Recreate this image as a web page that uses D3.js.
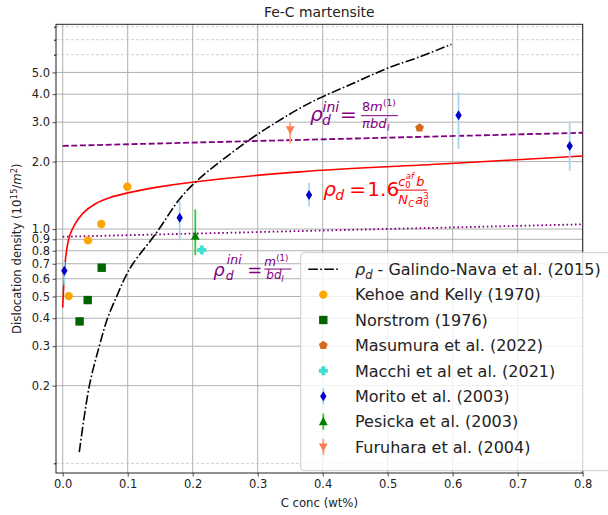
<!DOCTYPE html>
<html>
<head>
<meta charset="utf-8">
<script src="https://cdn.jsdelivr.net/npm/d3@7"></script>
<style>
body { margin: 0; background: #fff; }
text { font-family: "DejaVu Sans", sans-serif; }
</style>
</head>
<body>
<div id="chart"></div>
<script>
// ---- data ----
const galindoX = [0.0255, 0.041, 0.0563, 0.069, 0.083, 0.095, 0.108, 0.1435, 0.179, 0.205, 0.283, 0.329, 0.365, 0.396, 0.447, 0.498, 0.55, 0.598]
const galindoY = [0.101, 0.2, 0.3, 0.4, 0.5, 0.6, 0.7, 0.956, 1.35, 1.627, 2.45, 3.0, 3.46, 3.85, 4.47, 5.2, 5.88, 6.68]

const modelX = [0.0, 0.0025, 0.005, 0.0102, 0.018, 0.031, 0.051, 0.072, 0.1, 0.1435, 0.205, 0.365, 0.596, 0.8]
const modelY = [0.446, 0.623, 0.765, 0.924, 1.042, 1.175, 1.30, 1.38, 1.45, 1.535, 1.627, 1.80, 1.96, 2.12]

const iniX = [0.0, 0.8]
const iniDashedY = [2.35, 2.69]
const iniDottedY = [0.924, 1.05]

const kehoeX = [0.0092, 0.039, 0.0594, 0.0994]
const kehoeY = [0.502, 0.89, 1.053, 1.545]

const norstromX = [0.026, 0.0385, 0.06]
const norstromY = [0.387, 0.482, 0.672]

const masumuraX = [0.549]
const masumuraY = [2.83]

const macchiX = [0.214]
const macchiY = [0.806]

const moritoX = [0.0025, 0.18, 0.379, 0.609, 0.78]
const moritoY = [0.651, 1.123, 1.42, 3.22, 2.35]
const moritoLo = [0.562, 0.893, 1.26, 2.28, 1.82]
const moritoHi = [0.715, 1.33, 1.61, 4.08, 2.98]

const pesickaX = [0.204]
const pesickaY = [0.93]
const pesickaLo = [0.765]
const pesickaHi = [1.224]

const furuharaX = [0.35]
const furuharaY = [2.77]
const furuharaLo = [2.41]
const furuharaHi = [3.0]

const xTicks = [0.0, 0.1, 0.2, 0.3, 0.4, 0.5, 0.6, 0.7, 0.8]
const yTicks = [0.2, 0.3, 0.4, 0.5, 0.6, 0.7, 0.8, 0.9, 1.0, 2.0, 3.0, 4.0, 5.0]
const yMinor = [0.09, 6, 7, 8]

// ---- layout ----
const width = 608
const height = 515
const margin = {top: 24.3, right: 25.3, bottom: 42, left: 56}
const iw = width - margin.left - margin.right
const ih = height - margin.top - margin.bottom

const svg = d3.select("div#chart").append("svg").attr("width", width).attr("height", height)

const x = d3.scaleLinear().domain([-0.0103, 0.8]).range([0, iw])
const y = d3.scaleLog().domain([0.0815, 8.2]).range([ih, 0])

const plot = svg.append("g").attr("transform", `translate(${margin.left}, ${margin.top})`)

// grid
const grid = plot.append("g").attr("class", "grid")
grid.selectAll("line.vx").data(xTicks).enter().append("line")
    .attr("x1", d => x(d)).attr("x2", d => x(d)).attr("y1", 0).attr("y2", ih)
    .attr("stroke", "#b0b0b0").attr("stroke-width", 1)
grid.selectAll("line.hy").data(yTicks).enter().append("line")
    .attr("x1", 0).attr("x2", iw).attr("y1", d => y(d)).attr("y2", d => y(d))
    .attr("stroke", "#b0b0b0").attr("stroke-width", 1)
grid.selectAll("line.hm").data(yMinor).enter().append("line")
    .attr("x1", 0).attr("x2", iw).attr("y1", d => y(d)).attr("y2", d => y(d))
    .attr("stroke", "#c4c4c4").attr("stroke-width", 0.8).attr("stroke-dasharray", "3,2")

// axes
const xAxis = d3.axisBottom(x).tickValues(xTicks).tickFormat(d3.format(".1f")).tickSize(3.5).tickSizeOuter(0)
const yAxis = d3.axisLeft(y).tickValues(yTicks).tickFormat(d3.format(".1f")).tickSize(3.5).tickSizeOuter(0)
const xg = plot.append("g").attr("transform", `translate(0, ${ih})`).call(xAxis)
const yg = plot.append("g").call(yAxis)
const yMinorAxis = d3.axisLeft(y).tickValues(yMinor).tickFormat("").tickSize(2).tickSizeOuter(0)
plot.append("g").call(yMinorAxis).select(".domain").remove()
for (const g of [xg, yg]) {
    g.selectAll("text").attr("font-family", "DejaVu Sans").attr("font-size", 11.5).attr("fill", "#222")
    g.selectAll("line").attr("stroke", "#222").attr("stroke-width", 0.8)
    g.select(".domain").remove()
}
xg.selectAll("text").attr("y", 7)
yg.selectAll("text").attr("x", -6)

// spines
plot.append("rect").attr("width", iw).attr("height", ih)
    .attr("fill", "none").attr("stroke", "#222").attr("stroke-width", 1)

const curves = plot.append("g")

// curves
const zip = (a, b) => a.map((v, i) => [v, b[i]])
const straight = d3.line().x(d => x(d[0])).y(d => y(d[1]))
const smooth = d3.line().x(d => x(d[0])).y(d => y(d[1])).curve(d3.curveCatmullRom.alpha(0.5))

curves.append("path").datum(zip(iniX, iniDashedY)).attr("d", straight)
    .attr("fill", "none").attr("stroke", "#800080").attr("stroke-width", 1.8).attr("stroke-dasharray", "6,2.6")
curves.append("path").datum(zip(iniX, iniDottedY)).attr("d", straight)
    .attr("fill", "none").attr("stroke", "#800080").attr("stroke-width", 1.8).attr("stroke-dasharray", "1.6,2.6")
curves.append("path").datum(zip(modelX, modelY)).attr("d", smooth)
    .attr("fill", "none").attr("stroke", "red").attr("stroke-width", 1.6)
curves.append("path").datum(zip(galindoX, galindoY)).attr("d", smooth)
    .attr("fill", "none").attr("stroke", "black").attr("stroke-width", 1.6).attr("stroke-dasharray", "9.6,2.4,1.6,2.4")

// marker shapes
function marker(g, type, cx, cy, color) {
    if (type === "o") {
        g.append("circle").attr("cx", cx).attr("cy", cy).attr("r", 4.2).attr("fill", color)
    } else if (type === "s") {
        g.append("rect").attr("x", cx - 4.2).attr("y", cy - 4.2).attr("width", 8.4).attr("height", 8.4).attr("fill", color)
    } else if (type === "p") {
        const pts = d3.range(5).map(i => {
            const a = -Math.PI / 2 + i * 2 * Math.PI / 5
            return [cx + 4.6 * Math.cos(a), cy + 4.6 * Math.sin(a)]
        })
        g.append("polygon").attr("points", pts.join(" ")).attr("fill", color)
    } else if (type === "P") {
        const a = 4.5, b = 2
        const pts = [[-b, -a], [b, -a], [b, -b], [a, -b], [a, b], [b, b], [b, a], [-b, a], [-b, b], [-a, b], [-a, -b], [-b, -b]]
        g.append("polygon").attr("points", pts.map(p => [cx + p[0], cy + p[1]]).join(" ")).attr("fill", color)
    } else if (type === "d") {
        g.append("polygon").attr("points", [[cx, cy - 5], [cx + 3.2, cy], [cx, cy + 5], [cx - 3.2, cy]].join(" ")).attr("fill", color)
    } else if (type === "^") {
        g.append("polygon").attr("points", [[cx, cy - 4.8], [cx + 4.4, cy + 3.6], [cx - 4.4, cy + 3.6]].join(" ")).attr("fill", color)
    } else if (type === "v") {
        g.append("polygon").attr("points", [[cx, cy + 4.8], [cx + 4.4, cy - 3.6], [cx - 4.4, cy - 3.6]].join(" ")).attr("fill", color)
    }
}

const series = [
    {xs: kehoeX, ys: kehoeY, type: "o", color: "#ffa500"},
    {xs: norstromX, ys: norstromY, type: "s", color: "#006400"},
    {xs: masumuraX, ys: masumuraY, type: "p", color: "#d2691e"},
    {xs: macchiX, ys: macchiY, type: "P", color: "#40e0d0"},
    {xs: moritoX, ys: moritoY, lo: moritoLo, hi: moritoHi, type: "d", color: "#0000cd", ecolor: "#a6d4ee"},
    {xs: pesickaX, ys: pesickaY, lo: pesickaLo, hi: pesickaHi, type: "^", color: "#008000", ecolor: "#32cd32"},
    {xs: furuharaX, ys: furuharaY, lo: furuharaLo, hi: furuharaHi, type: "v", color: "#ff7f50", ecolor: "#ffa07a"},
]

const marks = plot.append("g")
series.forEach(s => {
    if (s.lo) {
        marks.selectAll(null).data(s.xs.map((v, i) => i)).enter().append("line")
            .attr("x1", i => x(s.xs[i])).attr("x2", i => x(s.xs[i]))
            .attr("y1", i => y(s.lo[i])).attr("y2", i => y(s.hi[i]))
            .attr("stroke", s.ecolor).attr("stroke-width", 1.8)
    }
    s.xs.forEach((v, i) => marker(marks, s.type, x(v), y(s.ys[i]), s.color))
})

// ---- math annotations ----
function put(g, str, px, py, size, italic, color) {
    return g.append("text").attr("x", px).attr("y", py).attr("font-size", size)
        .attr("font-style", italic ? "italic" : "normal").attr("fill", color).text(str)
}

// rho_d^ini = 8 m^(1) / (pi b d_l)
{
    const c = "#800080"
    const g = plot.append("g").attr("transform", `translate(${x(0.3805)}, ${y(3.03)})`)
    put(g, "ρ", 0, 0, 20, true, c)
    put(g, "ini", 12.5, -9.5, 14, true, c)
    put(g, "d", 12, 4, 14, true, c)
    put(g, "=", 30, 0, 20, false, c)
    g.append("line").attr("x1", 51).attr("x2", 88).attr("y1", -5.5).attr("y2", -5.5).attr("stroke", c).attr("stroke-width", 1)
    put(g, "8", 52, -10, 13, false, c)
    put(g, "m", 60, -10, 13, true, c)
    put(g, "(1)", 73, -15, 9, false, c)
    put(g, "π", 52, 7, 13, true, c)
    put(g, "bd", 60, 7, 13, true, c)
    put(g, "l", 77, 10, 9, true, c)
}

// rho_d = 1.6 c0^af b / (Nc a0^3)
{
    const c = "red"
    const g = plot.append("g").attr("transform", `translate(${x(0.401)}, ${y(1.41)})`)
    put(g, "ρ", 0, 0, 20, true, c)
    put(g, "d", 12, 4, 14, true, c)
    put(g, "=", 26, 0, 20, false, c)
    put(g, "1.6", 44, 0, 20, false, c)
    g.append("line").attr("x1", 74).attr("x2", 104).attr("y1", -5.5).attr("y2", -5.5).attr("stroke", c).attr("stroke-width", 1)
    put(g, "c", 75, -10, 13, true, c)
    put(g, "0", 82, -8, 8.5, false, c)
    put(g, "af", 82.5, -17, 8.5, true, c)
    put(g, "b", 93, -10, 13, true, c)
    put(g, "N", 75, 8.5, 13, true, c)
    put(g, "C", 85, 11, 8.5, true, c)
    put(g, "a", 92, 8.5, 13, true, c)
    put(g, "0", 100, 11, 8.5, false, c)
    put(g, "3", 100, 3, 8.5, false, c)
}

// rho_d^ini = m^(1) / (b d_l)
{
    const c = "#800080"
    const g = plot.append("g").attr("transform", `translate(${x(0.2317)}, ${y(0.62)})`)
    put(g, "ρ", 0, 0, 18, true, c)
    put(g, "ini", 13.5, -11.5, 12.5, true, c)
    put(g, "d", 12.5, 4.5, 12.5, true, c)
    put(g, "=", 34, 0, 18, false, c)
    g.append("line").attr("x1", 51).attr("x2", 78).attr("y1", -6.5).attr("y2", -6.5).attr("stroke", c).attr("stroke-width", 1)
    put(g, "m", 51, -10, 12, true, c)
    put(g, "(1)", 63, -14.5, 8.5, false, c)
    put(g, "bd", 53, 3.5, 12, true, c)
    put(g, "l", 68, 6.5, 8.5, true, c)
}

// ---- title and labels ----
svg.append("text").attr("x", margin.left + iw / 2).attr("y", 17).attr("text-anchor", "middle")
    .attr("font-size", 13.9).attr("fill", "#222").text("Fe-C martensite")
svg.append("text").attr("x", margin.left + iw / 2).attr("y", 507).attr("text-anchor", "middle")
    .attr("font-size", 11.7).attr("fill", "#222").text("C conc (wt%)")
const yl = svg.append("text").attr("transform", `translate(21, ${margin.top + ih / 2}) rotate(-90)`)
    .attr("text-anchor", "middle").attr("font-size", 11.7).attr("fill", "#222")
yl.append("tspan").text("Dislocation density (10")
yl.append("tspan").attr("font-size", 8.5).attr("dy", -4.5).text("15")
yl.append("tspan").attr("dy", 4.5).text("/")
yl.append("tspan").attr("font-style", "italic").text("m")
yl.append("tspan").attr("font-size", 8.5).attr("dy", -4.5).text("2")
yl.append("tspan").attr("dy", 4.5).text(")")

// ---- legend ----
const legendItems = [
    {label: " - Galindo-Nava et al. (2015)", type: "line"},
    {label: "Kehoe and Kelly (1970)", type: "o", color: "#ffa500"},
    {label: "Norstrom (1976)", type: "s", color: "#006400"},
    {label: "Masumura et al. (2022)", type: "p", color: "#d2691e"},
    {label: "Macchi et al et al. (2021)", type: "P", color: "#40e0d0"},
    {label: "Morito et al. (2003)", type: "d", color: "#0000cd", ecolor: "#a6d4ee"},
    {label: "Pesicka et al. (2003)", type: "^", color: "#008000", ecolor: "#32cd32"},
    {label: "Furuhara et al. (2004)", type: "v", color: "#ff7f50", ecolor: "#ffa07a"},
]
const lg = svg.append("g").attr("transform", "translate(300.7, 252.7)")
lg.append("rect").attr("width", 320).attr("height", 218).attr("rx", 3.5)
    .attr("fill", "white").attr("fill-opacity", 0.8).attr("stroke", "#cccccc").attr("stroke-width", 1)
legendItems.forEach((d, i) => {
    const cy = 16.5 + i * 25.4
    const hx = 22.6
    if (d.type === "line") {
        lg.append("line").attr("x1", hx - 15).attr("x2", hx + 15).attr("y1", cy).attr("y2", cy)
            .attr("stroke", "black").attr("stroke-width", 1.6).attr("stroke-dasharray", "9.6,2.4,1.6,2.4")
        const t = lg.append("text").attr("x", 54.3).attr("y", cy + 5.8).attr("font-size", 16).attr("fill", "#222")
        t.append("tspan").attr("font-style", "italic").text("ρ")
        t.append("tspan").attr("font-style", "italic").attr("font-size", 11.5).attr("dy", 4).text("d")
        t.append("tspan").attr("dy", -4).text(d.label)
    } else {
        if (d.ecolor) {
            lg.append("line").attr("x1", hx).attr("x2", hx).attr("y1", cy - 8).attr("y2", cy + 8)
                .attr("stroke", d.ecolor).attr("stroke-width", 1.8)
        }
        marker(lg, d.type, hx, cy, d.color)
        lg.append("text").attr("x", 54.3).attr("y", cy + 5.8).attr("font-size", 16).attr("fill", "#222").text(d.label)
    }
})
</script>
</body>
</html>
